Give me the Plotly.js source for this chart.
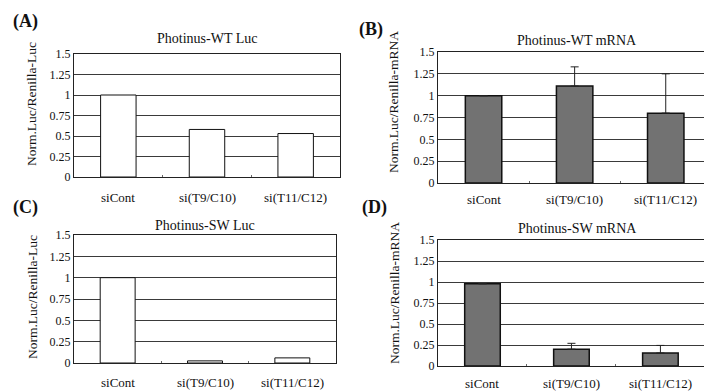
<!DOCTYPE html>
<html>
<head>
<meta charset="utf-8">
<script src="https://cdn.plot.ly/plotly-3.0.1.min.js"></script>
<style>html,body{margin:0;padding:0;background:#fff;}#chart{width:704px;height:392px;}</style>
</head>
<body>
<div id="chart"></div>
<script>
// ---- data ----
const categories = ["siCont", "si(T9/C10)", "si(T11/C12)"];
const wtLuc = [1.0, 0.58, 0.53];
const wtMrna = [1.0, 1.11, 0.80];
const wtMrnaErr = [null, 0.22, 0.45];
const swLuc = [1.0, 0.025, 0.06];
const swMrna = [0.98, 0.20, 0.155];
const swMrnaErr = [null, 0.07, 0.09];
const yTickVals = [0, 0.25, 0.5, 0.75, 1, 1.25, 1.5];
const yTickText = ["0", "0.25", "0.5", "0.75", "1", "1.25", "1.5"];
const panelTitles = ["Photinus-WT Luc", "Photinus-WT mRNA", "Photinus-SW Luc", "Photinus-SW mRNA"];
const panelLetters = ["(A)", "(B)", "(C)", "(D)"];
const yTitles = ["Norm.Luc/Renilla-Luc", "Norm.Luc/Renilla-mRNA", "Norm.Luc/Renilla-Luc", "Norm.Luc/Renilla-mRNA"];

const W = 704, H = 392;
const FONT = "Liberation Serif";
const px = x => x / W;
const py = y => (H - y) / H;

const whiteBar = {color: "#ffffff", line: {color: "#111", width: 1}};
const grayBar = {color: "#6a6a6a", line: {color: "#111", width: 1.5},
  pattern: {shape: ".", fgcolor: "#8c8c8c", bgcolor: "#5e5e5e", size: 2, solidity: 0.5}};

function errY(arr) {
  return {type: "data", array: arr, arrayminus: arr.map(() => 0), symmetric: false,
          visible: true, color: "#222", thickness: 1, width: 4};
}

const traces = [
  {type: "bar", x: categories, y: wtLuc, xaxis: "x", yaxis: "y", width: 0.4, marker: whiteBar, hoverinfo: "skip"},
  {type: "bar", x: categories, y: wtMrna, xaxis: "x2", yaxis: "y2", width: 0.4, marker: grayBar, error_y: errY(wtMrnaErr), hoverinfo: "skip"},
  {type: "bar", x: categories, y: swLuc, xaxis: "x3", yaxis: "y3", width: 0.4, marker: whiteBar, hoverinfo: "skip"},
  {type: "bar", x: categories, y: swMrna, xaxis: "x4", yaxis: "y4", width: 0.4, marker: grayBar, error_y: errY(swMrnaErr), hoverinfo: "skip"}
];

function xAxis(domain, range, anchor) {
  return {domain: domain, range: range, anchor: anchor, type: "category",
    showline: true, linecolor: "#222", linewidth: 1, mirror: true,
    showgrid: false, zeroline: false, ticks: "inside", ticklen: 2, tickcolor: "#666",
    tickson: "boundaries", showticklabels: false, fixedrange: true};
}
function yAxis(domain, anchor) {
  return {domain: domain, range: [0, 1.5], anchor: anchor,
    tickvals: yTickVals, ticktext: yTickText, ticks: "",
    showline: true, linecolor: "#222", linewidth: 1, mirror: true,
    showgrid: true, gridcolor: "#3a3a3a", gridwidth: 1, zeroline: false,
    tickfont: {family: FONT, size: 12, color: "#111"}, fixedrange: true};
}

const ann = [];
const titlePos = [[207, 38], [577, 40], [205, 226], [577, 228]];
const letterPos = [[25, 21], [371, 29], [25, 207], [374, 208]];
const yTitlePos = [[32, 104], [393, 102], [32, 297], [394, 293]];
const xLabelY = [197, 199.5, 382.5, 383.5];
const xRefs = ["x", "x2", "x3", "x4"];
for (let i = 0; i < 4; i++) {
  ann.push({text: panelTitles[i], xref: "paper", yref: "paper", x: px(titlePos[i][0]), y: py(titlePos[i][1]),
    xanchor: "center", yanchor: "middle", showarrow: false, font: {family: FONT, size: 14, color: "#111"}});
  ann.push({text: "<b>" + panelLetters[i] + "</b>", xref: "paper", yref: "paper", x: px(letterPos[i][0]), y: py(letterPos[i][1]),
    xanchor: "center", yanchor: "middle", showarrow: false, font: {family: FONT, size: 18, color: "#111"}});
  ann.push({text: yTitles[i], xref: "paper", yref: "paper", x: px(yTitlePos[i][0]), y: py(yTitlePos[i][1]),
    xanchor: "center", yanchor: "middle", textangle: -90, showarrow: false, font: {family: FONT, size: 13.5, color: "#111"}});
  categories.forEach(c => {
    ann.push({text: c, xref: xRefs[i], yref: "paper", x: c, y: py(xLabelY[i]),
      xanchor: "center", yanchor: "middle", showarrow: false, font: {family: FONT, size: 13, color: "#111"}});
  });
}

const layout = {
  width: W, height: H, margin: {l: 0, r: 0, t: 0, b: 0},
  paper_bgcolor: "#fff", plot_bgcolor: "#fff", showlegend: false, bargap: 0.6,
  xaxis: xAxis([px(74), px(340)], [-0.5, 2.5], "y"),
  yaxis: yAxis([py(177), py(54)], "x"),
  xaxis2: xAxis([px(438), 1], [-0.5, 2.42], "y2"),
  yaxis2: yAxis([py(183), py(52)], "x2"),
  xaxis3: xAxis([px(74), px(336)], [-0.5, 2.5], "y3"),
  yaxis3: yAxis([py(363), py(235)], "x3"),
  xaxis4: xAxis([px(438), 1], [-0.5, 2.49], "y4"),
  yaxis4: yAxis([py(366), py(240)], "x4"),
  annotations: ann
};

Plotly.newPlot("chart", traces, layout, {staticPlot: true, displayModeBar: false});
</script>
</body>
</html>
